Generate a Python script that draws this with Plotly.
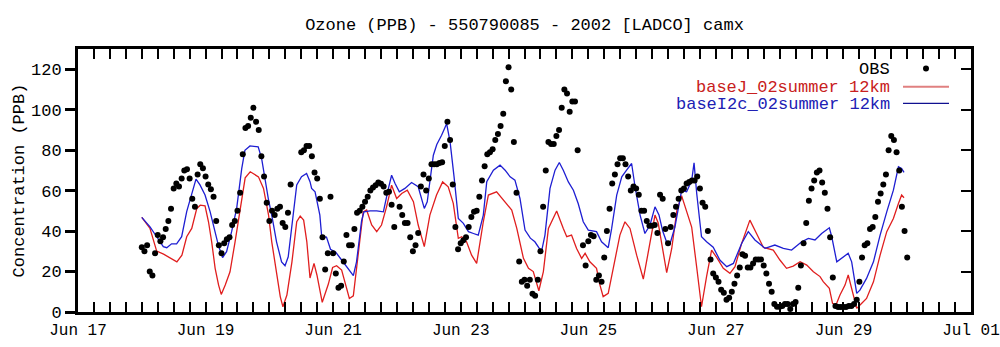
import pandas as pd
import plotly.graph_objects as go

# ---------------- data ----------------
start = pd.Timestamp("2002-06-17 00:00")
end = pd.Timestamp("2002-07-01 00:00")

# hourly observations starting Jun 18 00:00 (hour 24 after start); None = missing
obs_first_hour = 24
obs_values = [
    32, 30, 33, 20, 18, 29, 38, 35, 37, 41, 45, 51,
    61, 63.5, 62, 66, 70, 70.6, 66, 56, 52, 68, 73, 71,
    67, 63, 60.7, 57, 45, 33, 29, 34, 36, 37, 43, 45,
    50, 59, 78, 91, 92, 96, 101, 94, 90, 77, 67, 54,
    45, 50, 48, 51, 52, 44, 42, 49, 63, None, None, None,
    79, 80, 82, 82, 77, 69, 66, 56, 37, 21, 29, 57,
    29, 19, 12, 13, 25, 38, 33, 33, 41, 49, 50, 52,
    54.5, 57, 60, 61.6, 62.7, 64, 63.4, 62, 59, 59.4, 53, 42,
    None, 52, 48, 44, 44, 37, 30, 33, 39, 62, 68, 60,
    66, 73, 73, 73, 73.6, 74, 82, 94, 85, 63, 42, 31,
    34, 35.5, 37, 42, 47, 49.5, 50, 57, 65, 72, 78, 79,
    80.5, 85, 88, 92, 98, 114, 121, 110, 84, 59, 25, 15,
    16, 13, 16, 9, 8, 16, 30, 52, 70, 84, 83, 83,
    87, 90, 101, 110, 108, 99, 104, 104, 80, None, 33, 23,
    35, 38, 37.5, 16, 18, 15, 27, 40, 51, 63.5, 68, 73,
    76, 76, 73, 67, 60, 62, 61, 58, 50, 50, 45, 42.6,
    42.6, 43, 39, 58, 56, 41, 34, 42, 48, 52, 56, 60,
    61, 63.5, 64.3, 65, 65, 67, 61, 54, 52, 40, 26, 19,
    17, 15, 11, 9.5, 6, 7, 10, 14, 18, 22, 28.6, 27.8,
    22, 22, 24, 26, 26, 26, 23, 19, 14, 10, 4, 2.6,
    2.6, 3, 4, 4, 1.5, 4, 5, 12, 23, 34, 44, 55,
    61, 65, 69, 70, 64, 59, 51, 37, 17, 3, 2.5, 2.5,
    2.5, 2.5, 3, 3, 4, 6, 15, 27, 33, 34, 41, 42,
    47, 54.5, 58.6, 63, 68, 80, 87, 85, 79, 70, 52, 40,
    27,
]

# model series (hours after Jun 17 00:00, ppb)
red_hours = [
    24, 27.1, 29.6, 32.2, 37.2, 39.1, 40.9, 42.8, 44.7, 46, 47.8, 49.1, 50.3,
    51.6, 52.9, 53.9, 55.4, 57.2, 59.1, 61, 62.9, 64.8, 67.9, 69.8, 71.7,
    72.9, 74.8, 76.1, 77.1, 78.6, 80.5, 82.3, 83.6, 84.9, 86.1, 87.3, 88.8,
    89.9, 91.9, 94.2, 95.8, 97.3, 99.2, 100.4, 102.1, 103.6, 105.5, 107.3,
    108.6, 110.5, 112.4, 114.2, 116.1, 118, 119.9, 121.8, 123.9, 126.2, 128,
    130.3, 132.4, 134.9, 137.2, 139.3, 141.2, 143.1, 144.4, 146.2, 148.1, 150,
    152.5, 154.4, 157.5, 160.7, 163.2, 165.1, 167.6, 169.5, 171.3, 173.4,
    175.1, 177, 180.1, 182.6, 183.9, 185.7, 187.6, 189.5, 190.8, 192.6,
    195.1, 196.4, 197.6, 199.5, 201.4, 203.9, 205.8, 207.7, 210.2, 212.7,
    214.6, 217.1, 218.3, 219.8, 221.5, 223.4, 225.3, 227.1, 229, 230.9,
    232.8, 234.6, 236.5, 238.4, 240.3, 242.8, 245.3, 247.2, 249.7, 252.8,
    255.3, 257.9, 261.6, 264.1, 266.6, 269.1, 271.7, 274.2, 276.7, 279.2,
    280.4, 282.7, 283.9, 285.2, 286.7, 288.6, 289.8, 291.5, 293, 294.9,
    296.7, 299.3, 301.8, 304.3, 306.8, 308.7, 309.9, 310.8,
]
red_values = [
    46.8, 41.3, 30.1, 28.6, 24.8, 28.1, 37.2, 41.3, 51.2, 52.8, 52.5, 44.6, 34.7,
    21.6, 13.3, 8.7, 13.3, 19.9, 34.7, 49.5, 66.3, 69.3, 66.8, 61.1, 47.9,
    34.7, 18.3, 7.6, 2.6, 8.4, 24.8, 44.6, 47.4, 45.4, 34.7, 16.8, 24,
    18.3, 4.8, 13.8, 22, 22.9, 20.7, 15, 6.7, 8, 28, 49.5,
    50.4, 43, 39.7, 43, 52, 62.7, 56.1, 58.6, 60.2, 54.5, 43,
    32.3, 47.9, 57.8, 64.3, 61.9, 53.7, 36.4, 37.2, 34.7, 28.1, 24,
    44.6, 57.8, 59.4, 54.5, 50.4, 41.3, 26.5, 21.6, 20, 10.5,
    20, 41.3, 49.9, 41.3, 37.2, 38, 31.4, 26.5, 29, 24.8,
    21.6, 13.3, 7.6, 9.2, 21.6, 38, 44.6, 41.3, 28.1, 16.3,
    29.8, 47.9, 44, 33, 19.5, 31.4, 50, 57.5, 50, 42,
    22, 2.6, 17.5, 30.6, 27, 21.6, 19.1, 22.4, 33.9, 45.4,
    38.8, 31.9, 30.6, 25.7, 21.6, 22.7, 24.9, 23.2, 19.9, 17.5,
    15, 11.7, 4.3, 3.5, 8.4, 13.3, 18.3, 9.2, 1.8, 4.3,
    6.7, 14.9, 28.1, 39.7, 46.2, 53.6, 57.8, 56.5,
]

blue_hours = [
    24, 27.1, 29.6, 32.1, 33.4, 35.2, 37.1, 39, 40.9, 42.8, 44.4, 45.9, 47.8,
    49.7, 51.5, 52.8, 54.4, 55.9, 57.8, 59.7, 61.6, 62.8, 64.7, 67.8, 69.1,
    70.3, 71.6, 72.9, 74.7, 76.6, 77.9, 79.1, 81, 82.3, 84.1, 86, 87.3, 87.9,
    89.2, 91, 91.7, 93.5, 95, 97, 99.2, 101, 103.6, 104.8, 106.7, 107.6,
    109.9, 112.4, 114.9, 116.8, 118, 119.3, 120.9, 123, 125.5, 128, 130.3,
    131.4, 133.7, 135, 136.8, 138.7, 140, 141.5, 143.1, 145, 146.9, 148.8,
    150.6, 152.5, 153.8, 156.3, 158.8, 160.7, 162.6, 164.4, 166.3, 168.2,
    170.2, 171.9, 174.4, 175.7, 177.6, 179.5, 181.1, 182.6, 184.5, 186.4,
    188.2, 190.1, 192, 195.1, 197, 199.5, 200.8, 202.7, 204.6, 206.4, 208.3,
    209.6, 211.5, 213.3, 215.2, 217.1, 218.6, 220, 221.5, 222.7, 224.6,
    227.1, 229, 230.9, 231.8, 232.8, 234.6, 236.5, 239, 241.5, 244.1, 246.6,
    249.7, 252.2, 254.7, 258.5, 262.2, 265.4, 268.5, 272.3, 274.8, 277.3,
    279.8, 282.7, 283.6, 285.5, 288, 289.8, 291.1, 293, 294.2, 296.7, 299.3,
    301.8, 304.3, 306.8, 308.7, 309.9, 310.8,
]
blue_values = [
    46.8, 42.1, 37.2, 32.3, 31.8, 33.7, 33.7, 37.2, 49.6, 57.8, 65.7, 62.8, 57.8,
    49.6, 40.5, 33.1, 26.9, 29.8, 39.7, 51.2, 70.9, 79.9, 82.1, 81.6, 75.8,
    66, 56.1, 47.9, 34.7, 24.8, 22.9, 27.3, 47.9, 62.8, 66.9, 68.5, 64.4, 61.1,
    59.4, 47.9, 37.2, 37, 31, 29.5, 25.7, 22.4, 18, 24.8, 45, 49.5,
    50, 50, 49.5, 61.1, 67.6, 63.5, 59.4, 61.1, 64, 61.9, 51.2,
    54.5, 77.5, 82.8, 87.4, 93.1, 84.1, 66.8, 46.2, 43.8, 39.7, 38.8,
    38, 47.9, 64.4, 70.1, 72.6, 70.1, 66.8, 65.2, 56.1, 40.5,
    36.5, 34.7, 29.8, 38, 61.1, 70.1, 73.9, 70.1, 64.3, 60.2,
    53.6, 44.6, 40.5, 39.7, 34.7, 31.8, 41.3, 57.8, 66.8, 70.1, 73.4,
    61.9, 47.9, 38.8, 42.9, 52, 48, 40, 34.5, 33.5, 42,
    60, 59.4, 65, 73.7, 58.6, 37.2, 34.7, 32, 25.7, 22.4, 24,
    33.9, 39.7, 35.6, 31.5, 33.1, 31.5, 30.6, 34.7, 36.4, 35.6,
    38.8, 41.6, 37.2, 24.8, 27.3, 29, 24.8, 9.2, 10.8, 16.6, 24.8,
    38, 49.5, 60.2, 71.8, 70.9, 69,
]

title_text = "Ozone (PPB) - 550790085 - 2002 [LADCO] camx"
y_title = "Concentration (PPB)"
obs_name = "OBS"
red_name = "baseJ_02summer 12km"
blue_name = "baseI2c_02summer 12km"

# ---------------- build ----------------
def to_time(hours):
    return [start + pd.Timedelta(hours=float(h)) for h in hours]

obs_times = to_time(range(obs_first_hour, obs_first_hour + len(obs_values)))

FONT = "Liberation Mono, Courier New, monospace"
RED = "#e01e1e"
BLUE = "#1e1ed2"

fig = go.Figure()
fig.add_trace(go.Scatter(x=to_time(red_hours), y=red_values, mode="lines",
                         line=dict(color=RED, width=1.3), name=red_name,
                         showlegend=False))
fig.add_trace(go.Scatter(x=to_time(blue_hours), y=blue_values, mode="lines",
                         line=dict(color=BLUE, width=1.3), name=blue_name,
                         showlegend=False))
fig.add_trace(go.Scatter(x=obs_times, y=obs_values, mode="markers",
                         marker=dict(color="black", size=6), name=obs_name,
                         yaxis="y2", showlegend=False))

# legend built as right-aligned text with the sample to its right
W, H = 893.0, 263.0
leg_text_x = (891.7 - 78) / W
leg_rows = [(69.5, obs_name, "black"), (87.0, red_name, "#c82020"),
            (104.0, blue_name, "#2020b4")]
annotations = []
for py, txt, col in leg_rows:
    annotations.append(dict(x=leg_text_x, y=(312 - py) / H, xref="paper",
                            yref="paper", text=txt, showarrow=False,
                            xanchor="right", yanchor="middle",
                            font=dict(family=FONT, size=17, color=col)))
sx0, sx1 = (903 - 78) / W, (949 - 78) / W
shapes = [
    dict(type="circle", xref="paper", yref="paper",
         x0=(926 - 78 - 3) / W, x1=(926 - 78 + 3) / W,
         y0=(312 - 68.5 - 3) / H, y1=(312 - 68.5 + 3) / H,
         fillcolor="black", line=dict(color="black", width=0)),
    dict(type="line", xref="paper", yref="paper", x0=sx0, x1=sx1,
         y0=(312 - 86.7) / H, y1=(312 - 86.7) / H,
         line=dict(color="#e08080", width=2)),
    dict(type="line", xref="paper", yref="paper", x0=sx0, x1=sx1,
         y0=(312 - 103.3) / H, y1=(312 - 103.3) / H,
         line=dict(color="#101090", width=1.3)),
]

fig.update_layout(
    width=1000, height=347,
    margin=dict(l=78, r=29, t=49, b=35, pad=0, autoexpand=False),
    paper_bgcolor="white", plot_bgcolor="white",
    font=dict(family=FONT, size=17, color="black"),
    title=dict(text=title_text, x=0.5, xref="paper", y=1 - 24 / 347,
               yref="container", xanchor="center", yanchor="middle",
               font=dict(family=FONT, size=17, color="black")),
    showlegend=False,
    annotations=annotations,
    shapes=shapes,
    xaxis=dict(type="date", range=[start, end], tickmode="linear",
               tick0=start, dtick=2 * 86400000, tickformat="%b %d",
               tickfont=dict(family=FONT, size=16),
               ticks="inside", ticklen=10, tickwidth=2, tickcolor="black",
               minor=dict(ticks="inside", dtick=6 * 3600000, tick0=start,
                          ticklen=5, tickwidth=2, tickcolor="black",
                          showgrid=False),
               showline=True, linewidth=3, linecolor="black",
               mirror="allticks", showgrid=False, zeroline=False,
               ticklabelstandoff=1, ticklabeloverflow="allow"),
    yaxis=dict(range=[0, 130], tickmode="linear", tick0=0, dtick=20,
               ticks="outside", ticklen=10, tickwidth=3, tickcolor="black",
               showline=True, linewidth=3, linecolor="black", mirror=True,
               showgrid=False, zeroline=False,
               title=dict(text=y_title, standoff=3,
                          font=dict(family=FONT, size=17))),
    yaxis2=dict(range=[0, 130], overlaying="y", side="right",
                tickmode="linear", tick0=0, dtick=20, ticks="inside",
                ticklen=10, tickwidth=2, tickcolor="black",
                showticklabels=False, showline=False, showgrid=False,
                zeroline=False),
)

fig.write_html("out.html")
